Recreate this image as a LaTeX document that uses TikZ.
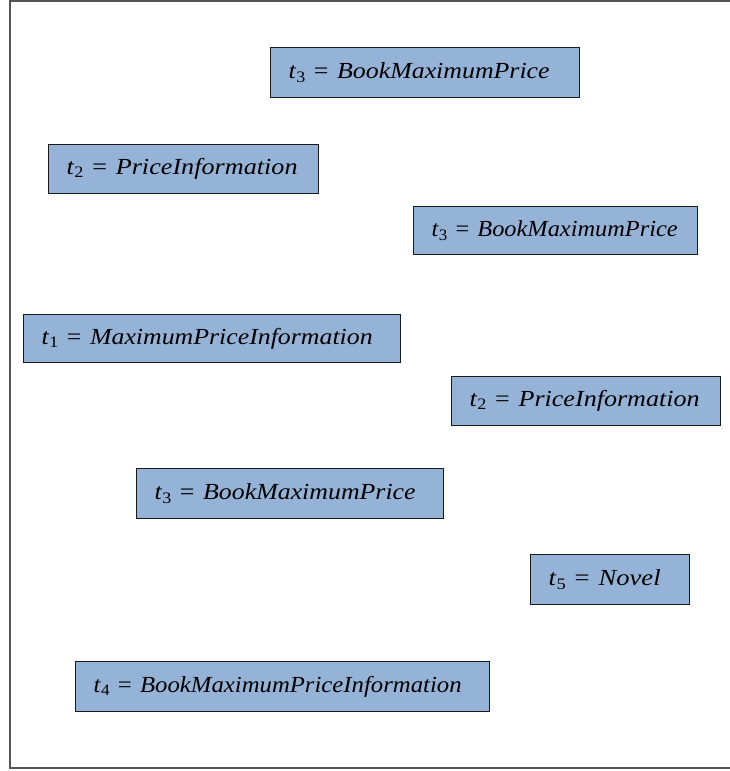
\documentclass[tikz,border=0pt]{standalone}
\usepackage{fontspec}
\setmainfont{Liberation Serif}
\usepackage{graphicx}

\definecolor{boxblue}{RGB}{149,179,215}
\definecolor{framegray}{RGB}{85,85,85}

% fit a label to a given width, keep its height
\newcommand{\tlbl}[3]{\resizebox{#1pt}{\height}{%
  \textit{t}\raisebox{-0.3ex}{\fontsize{16}{16}\selectfont #2}\ =\ \textit{#3}}}

\begin{document}
\begin{tikzpicture}[
  x=1pt, y=-1pt,
  frame/.style={draw=framegray, line width=1.4pt},
  tbox/.style={draw=black!90, line width=1.3pt, fill=boxblue, anchor=north west,
    inner xsep=18pt, inner ysep=0pt, align=left, font=\fontsize{23}{25}\selectfont},
]
  \useasboundingbox (0,0) rectangle (730,771);
  \draw[frame] (731,1) -- (10,1) -- (10,768) -- (731,768);

  % type boxes, top to bottom
  \node[tbox, text width=273pt, minimum height=50pt] (t3a) at (270,47) {\tlbl{261}{3}{BookMaximumPrice}};
  \node[tbox, text width=234pt, minimum height=49pt] (t2a) at (48,144) {\tlbl{231}{2}{PriceInformation}};
  \node[tbox, text width=248pt, minimum height=48pt] (t3b) at (413,206) {\tlbl{246}{3}{BookMaximumPrice}};
  \node[tbox, text width=341pt, minimum height=48pt] (t1) at (23,314) {\tlbl{331}{1}{MaximumPriceInformation}};
  \node[tbox, text width=233pt, minimum height=49pt] (t2b) at (451,376) {\tlbl{230}{2}{PriceInformation}};
  \node[tbox, text width=271pt, minimum height=50pt] (t3c) at (136,468) {\tlbl{261}{3}{BookMaximumPrice}};
  \node[tbox, text width=123pt, minimum height=50pt] (t5) at (530,554) {\tlbl{112}{5}{Novel}};
  \node[tbox, text width=378pt, minimum height=50pt] (t4) at (75,661) {\tlbl{368}{4}{BookMaximumPriceInformation}};
\end{tikzpicture}
\end{document}
